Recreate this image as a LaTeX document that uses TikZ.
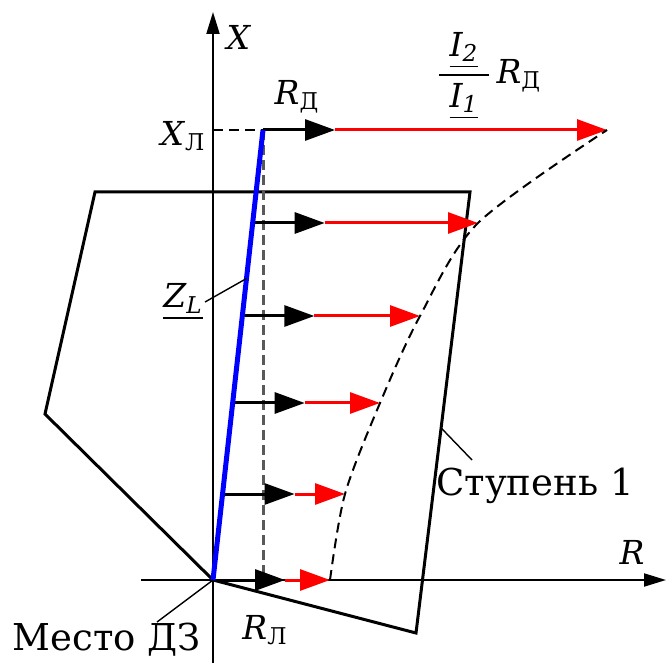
\documentclass[tikz,border=0pt]{standalone}
\usepackage{amsmath}
\usepackage{fontspec}
\setmainfont{DejaVu Serif}
\usetikzlibrary{arrows.meta}
\tikzset{
  vec/.style={line width=1.5pt,-{Triangle[length=15pt,width=10.5pt]}},
  axis/.style={line width=1pt,-{Triangle[length=11pt,width=6.5pt]}},
  lead/.style={line width=0.7pt},
  lbl/.style={font=\rmfamily\fontsize{16.5}{20}\selectfont,inner sep=1pt},
  txt/.style={font=\rmfamily\fontsize{18.5}{22}\selectfont,inner sep=1pt}
}
\begin{document}
\begin{tikzpicture}[x=5pt,y=5pt]
					\useasboundingbox (-21.3,-8.3) rectangle (45.4,58);
					\coordinate (O) at (0,0);
					\coordinate (T) at (5,45);
					\coordinate (H) at (5,0);
					\coordinate (K) at (0,45);
					\coordinate (XB) at (0,-8.3);
					\coordinate (XE) at (0,56.8);
					\coordinate (RB) at (-7.2,0);
					\coordinate (RE) at (45.3,0);
					\coordinate (A) at (-11.8,38.8);
					\coordinate (B) at (25.7,38.8);
					\coordinate (C) at (20.3,-5.3);
					\coordinate (D) at (-16.8,16.6);
					\coordinate (F) at (25.9,12);
					\coordinate (N) at (-5.6,-4.2);
					\path (O) -- (T) coordinate[pos=0.67] (Z);
					\path (C) -- (B) coordinate[pos=0.465] (E);
					\draw [axis] (XB) -- (XE);
					\draw [axis] (RB) -- (RE);
					\draw [line width=1.5pt] (O) -- (C) -- (B) -- (A) -- (D) -- cycle;
					\draw [line width=1pt, dash pattern=on 5pt off 3pt] (K) -- (T);
					\draw [line width=1.5pt, dash pattern=on 5pt off 2.5pt, black!65] (T) -- (H);
					\foreach \y/\r [count=\i] in {45/39.4, 35.7/26.5, 26.4/20.7, 17.7/16.7, 8.6/13.2, 0/11.7} {
						\coordinate (P\i) at ({\y/9},\y);
						\coordinate (Q\i) at ({\y/9+7.2},\y);
						\coordinate (U\i) at (\r,\y);
						\draw [vec, red] (Q\i) -- (U\i);
						\draw [vec] (P\i) -- (Q\i);
					}
					\draw [line width=1pt, dash pattern=on 5pt off 3pt] plot [smooth] coordinates {(U6) (U5) (U4) (U3) (U2) (U1)};
					\draw [line width=2.5pt, blue] (O) -- (T);
					\node [lbl] (LX) at (2.6,54.3) {\textit{X}};
					\node [lbl] (LR) at (41.9,2.8) {\textit{R}};
					\node [lbl] (LK) at (-3,44.4) {\textit{X}\textsubscript{Л}};
					\node [lbl] (LD) at (8.4,48.3) {\textit{R}\textsubscript{Д}};
					\node [lbl] (LF) at (27.6,50.4) {$\genfrac{}{}{0.9pt}{0}{\makebox[1.5em]{$\underline{\textit{I}_{\textit{2}}}$}}{\makebox[1.5em]{$\underline{\textit{I}_{\textit{1}}}$}}$\,\textit{R}\textsubscript{Д}};
					\node [lbl] (LH) at (5.2,-5) {\textit{R}\textsubscript{Л}};
					\node [lbl] (LZ) at (-3,27.8) {$\underline{\textit{Z}_{\textit{L}}}$};
					\node [txt] (LS) at (32.2,9.4) {Ступень 1};
					\node [txt] (LM) at (-10.6,-6) {Место ДЗ};
					\draw [lead] (LZ.east) -- (Z);
					\draw [lead] (E) -- (F);
					\draw [lead] (O) -- (N);
\end{tikzpicture}
\end{document}
